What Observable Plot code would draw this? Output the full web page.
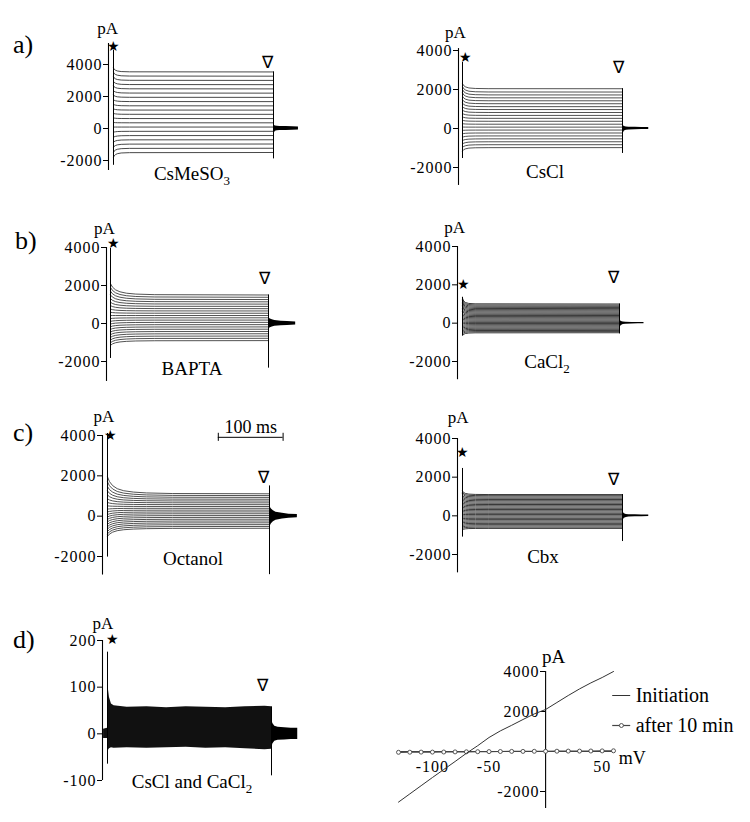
<!DOCTYPE html>
<html><head><meta charset="utf-8">
<script src="https://cdn.jsdelivr.net/npm/d3@7"></script>
<script src="https://cdn.jsdelivr.net/npm/@observablehq/plot@0.6"></script>
<style>
html,body{margin:0;padding:0;background:#fff;}
#fig{position:relative;width:750px;height:822px;overflow:hidden;background:#fff;font-family:"Liberation Serif","Times New Roman",serif;}
#fig > div{position:absolute;}
#fig svg, #fig svg g, #fig svg text, #fig svg tspan{font-family:"Liberation Serif","Times New Roman",serif !important;}
.tp g[aria-label*="tick label"] text, .tp g[aria-label="y-axis"] text, .tp g[aria-label="x-axis"] text{letter-spacing:1px;}
</style></head><body><div id="fig"></div><script>
// ---------------- DATA ----------------
// a) CsMeSO3 (pA, ms)
const csmeso3Steady = [-1500,-1235,-970,-705,-440,-175,90,355,620,885,1150,1415,1680,1945,2210,2475,2740,3005,3270,3535];
const csmeso3Onset  = [-1800,-1490,-1180,-870,-560,-240,90,380,665,950,1235,1520,1805,2090,2375,2660,2945,3230,3515,3780];
const csmeso3DecayT = [0, 1, 3, 6, 12, 25, 250];
const csmeso3DecayW = [1, 0.7, 0.45, 0.25, 0.1, 0.03, 0];
const csmeso3Spike = [-2300, 4900];
const csmeso3End = [-1900, 3535];
const csmeso3TailT  = [250, 251, 253, 256, 260, 270, 280, 289];
const csmeso3TailHi = [350, 200, 160, 140, 130, 120, 110, 100];
const csmeso3TailLo = [-700, -300, -170, -140, -130, -120, -110, -100];

// a) CsCl
const csclSteady = [-980,-830,-680,-530,-380,-230,-80,70,220,370,520,670,820,970,1120,1270,1420,1570,1720,1870,2040];
const csclOnset  = [-1150,-975,-800,-625,-450,-275,-100,75,250,425,600,775,950,1125,1300,1475,1650,1825,2000,2150,2300];
const csclDecayT = [0, 2, 5, 10, 20, 40, 250];
const csclDecayW = [1, 0.6, 0.35, 0.15, 0.05, 0.01, 0];
const csclSpike = [-1540, 3385];
const csclEnd = [-1280, 2040];
const csclTailT  = [250, 251, 253, 256, 260, 270, 280, 291];
const csclTailHi = [250, 150, 100, 80, 70, 60, 55, 50];
const csclTailLo = [-400, -250, -130, -90, -75, -65, -55, -50];

// b) BAPTA
const baptaSteady = [-900,-780,-660,-540,-420,-300,-180,-60,60,180,300,420,540,660,780,900,1020,1140,1260,1380,1500];
const baptaOnset  = [-1150,-1010,-870,-730,-590,-450,-310,-170,-30,110,260,420,590,760,940,1120,1310,1500,1700,1900,2100];
const baptaDecayT = [0, 3, 8, 15, 25, 40, 70, 250];
const baptaDecayW = [1, 0.7, 0.45, 0.28, 0.16, 0.08, 0.03, 0];
const baptaSpike = [-1840, 3950];
const baptaEnd = [-2350, 1500];
const baptaTailT  = [250, 251, 253, 256, 260, 270, 280, 293];
const baptaTailHi = [300, 280, 240, 200, 160, 120, 100, 80];
const baptaTailLo = [-400, -260, -220, -190, -150, -120, -100, -80];

// b) CaCl2
const cacl2Steady = [-500,-440,-380,-320,-260,-200,-140,-80,-20,40,100,160,220,280,340,400,460,520,580,640,700,760,820,880,940,1000];
const cacl2Onset  = [-650,-570,-495,-415,-340,-260,-180,-105,-25,50,130,210,285,365,440,520,600,675,755,830,910,990,1065,1145,1220,1300];
const cacl2DecayT = [0, 2, 5, 10, 20, 250];
const cacl2DecayW = [1, 0.5, 0.25, 0.1, 0.03, 0];
const cacl2Spike = [-650, 1350];
const cacl2End = [-560, 1000];
const cacl2TailT  = [250, 251, 253, 256, 260, 270, 280, 289];
const cacl2TailHi = [200, 150, 90, 60, 45, 40, 35, 30];
const cacl2TailLo = [-300, -200, -120, -70, -50, -40, -35, -30];

// c) Octanol
const octanolSteady = [-600,-510,-420,-330,-240,-150,-60,30,120,210,300,390,480,570,660,750,840,930,1020,1110];
const octanolOnset  = [-1000,-880,-760,-640,-520,-400,-280,-160,-40,80,210,350,510,680,860,1050,1250,1470,1700,1950];
const octanolDecayT = [0, 3, 8, 15, 25, 40, 60, 100, 250];
const octanolDecayW = [1, 0.72, 0.48, 0.3, 0.18, 0.1, 0.05, 0.015, 0];
const octanolSpike = [-2030, 4100];
const octanolEnd = [-2900, 1500];
const octanolTailT  = [250, 251, 253, 256, 260, 270, 280, 293];
const octanolTailHi = [600, 450, 350, 270, 200, 140, 100, 80];
const octanolTailLo = [-600, -500, -380, -280, -200, -140, -100, -80];

// c) Cbx
const cbxSteady = [-650,-585,-520,-455,-390,-325,-260,-195,-130,-65,0,65,130,195,260,325,390,455,520,585,650,715,780,845,910,975,1040,1100];
const cbxOnset  = [-720,-650,-580,-505,-435,-360,-290,-215,-145,-70,0,75,150,225,300,375,450,525,600,675,750,825,900,975,1050,1125,1200,1280];
const cbxDecayT = [0, 2, 5, 10, 20, 40, 250];
const cbxDecayW = [1, 0.55, 0.3, 0.13, 0.04, 0.01, 0];
const cbxSpike = [-1100, 2450];
const cbxEnd = [-1330, 1100];
const cbxTailT  = [250, 251, 253, 256, 260, 270, 280, 291];
const cbxTailHi = [250, 180, 110, 70, 55, 50, 45, 40];
const cbxTailLo = [-300, -220, -120, -80, -60, -50, -45, -40];

// d) CsCl and CaCl2 (noise envelope, pA)
const bothPreT  = [-6, 0];
const bothPreHi = [10, 12];
const bothPreLo = [-10, -10];
const bothBandT  = [0, 1, 3, 6, 10, 30, 60, 90, 120, 150, 180, 210, 240, 250];
const bothBandHi = [120, 100, 78, 64, 60, 57, 58, 56, 58, 57, 56, 58, 59, 58];
const bothBandLo = [-45, -36, -32, -30, -31, -30, -31, -30, -29, -31, -30, -32, -34, -33];
const bothSpike = [-65, 175];
const bothEnd = [-90, 58];
const bothTailT  = [250, 252, 255, 260, 270, 280, 290];
const bothTailHi = [35, 22, 16, 14, 13, 12, 12];
const bothTailLo = [-35, -22, -16, -14, -13, -12, -12];

// d) I-V relation
const ivVoltage    = [-130,-120,-110,-100,-90,-80,-70,-60,-50,-40,-30,-20,-10,0,10,20,30,40,50,60];
const ivInitiation = [-2530,-2120,-1710,-1300,-900,-500,-90,290,700,1030,1310,1600,1880,2100,2450,2800,3130,3430,3700,4000];
const ivAfter10min = [-40,-35,-30,-30,-25,-20,-15,-10,-5,0,5,5,10,10,15,20,20,25,30,35];

const yTicksCurrent = [-2000, 0, 2000, 4000];
const yTicksSmall = [-100, 0, 100, 200];
const ivYTicks = [-2000, 2000, 4000];
const ivXTicks = [-100, -50, 50];

// ---------------- LAYOUT ----------------
const FONT = "'Liberation Serif','Times New Roman',serif";
const fig = document.getElementById("fig");
function fixFont(svg){
  svg.setAttribute("font-family", FONT);
  svg.style.fontFamily = FONT;
  svg.querySelectorAll("g, text").forEach(el => {
    if (el.hasAttribute("font-family")) el.setAttribute("font-family", FONT);
  });
  svg.querySelectorAll("text").forEach(el => { el.style.fontFamily = FONT; });
}
function place(el, box){
  const d = document.createElement("div");
  d.style.left = box[0] + "px"; d.style.top = box[1] + "px";
  d.appendChild(el); fig.appendChild(d);
}

const panels = [
  {L:{box:[0,0,375,200], tPx:[113,273], yv:[-2000,4000], yp:[160,64], axisPx:108, axisSpan:[5312,-2625], ticks:yTicksCurrent, sw:0.9, col:"#333",
      star:[0,5125], tri:[240,4125], pa:[-9,6250]},
   D:{steady:csmeso3Steady, onset:csmeso3Onset, decayT:csmeso3DecayT, decayW:csmeso3DecayW, spike:csmeso3Spike, end:csmeso3End,
      tailT:csmeso3TailT, tailHi:csmeso3TailHi, tailLo:csmeso3TailLo}},
  {L:{box:[375,0,375,200], tPx:[462,622], yv:[-2000,4000], yp:[167,50], axisPx:458, axisSpan:[4100,-2920], ticks:yTicksCurrent, sw:0.85, col:"#333",
      star:[5,3640], tri:[244,3130], pa:[-11,4920]},
   D:{steady:csclSteady, onset:csclOnset, decayT:csclDecayT, decayW:csclDecayW, spike:csclSpike, end:csclEnd,
      tailT:csclTailT, tailHi:csclTailHi, tailLo:csclTailLo}},
  {L:{box:[0,200,375,200], tPx:[110,268], yv:[-2000,4000], yp:[361,247], axisPx:106, axisSpan:[4000,-3050], ticks:yTicksCurrent, sw:0.85, col:"#333",
      star:[5,4230], tri:[244,2370], pa:[-9.5,5020]},
   D:{steady:baptaSteady, onset:baptaOnset, decayT:baptaDecayT, decayW:baptaDecayW, spike:baptaSpike, end:baptaEnd,
      tailT:baptaTailT, tailHi:baptaTailHi, tailLo:baptaTailLo}},
  {L:{box:[375,200,375,200], tPx:[462,619], yv:[-2000,4000], yp:[361,246], axisPx:457, axisSpan:[4000,-2950], ticks:yTicksCurrent, sw:0.9, col:"#222",
      star:[1,2000], tri:[240,2370], pa:[-12.7,5000]},
   D:{steady:cacl2Steady, onset:cacl2Onset, decayT:cacl2DecayT, decayW:cacl2DecayW, spike:cacl2Spike, end:cacl2End,
      tailT:cacl2TailT, tailHi:cacl2TailHi, tailLo:cacl2TailLo}},
  {L:{box:[0,400,375,180], tPx:[107,269], yv:[-2000,4000], yp:[556,435], axisPx:102, axisSpan:[4000,-2920], ticks:yTicksCurrent, sw:0.85, col:"#333",
      star:[4,4020], tri:[241,1930], pa:[-5.4,4950], scalebar:{t1:171, t2:271, v:3910, tick:[3710,4110], text:[221,4420]}},
   D:{steady:octanolSteady, onset:octanolOnset, decayT:octanolDecayT, decayW:octanolDecayW, spike:octanolSpike, end:octanolEnd,
      tailT:octanolTailT, tailHi:octanolTailHi, tailLo:octanolTailLo}},
  {L:{box:[375,400,375,180], tPx:[462,622], yv:[-2000,4000], yp:[554,438], axisPx:457, axisSpan:[4000,-2950], ticks:yTicksCurrent, sw:0.9, col:"#222",
      star:[0,3280], tri:[236,1900], pa:[-7,5080]},
   D:{steady:cbxSteady, onset:cbxOnset, decayT:cbxDecayT, decayW:cbxDecayW, spike:cbxSpike, end:cbxEnd,
      tailT:cbxTailT, tailHi:cbxTailHi, tailLo:cbxTailLo}},
  {L:{box:[0,580,375,242], tPx:[107,271], yv:[-100,200], yp:[780,640], axisPx:102, axisSpan:[200,-100], ticks:yTicksSmall, sw:0.8, col:"#333",
      star:[8,202], tri:[236,103], pa:[-6.9,237]},
   D:{bandT:bothBandT, bandHi:bothBandHi, bandLo:bothBandLo, preT:bothPreT, preHi:bothPreHi, preLo:bothPreLo,
      spike:bothSpike, end:bothEnd, tailT:bothTailT, tailHi:bothTailHi, tailLo:bothTailLo}}
];

function tracePanel(L, D){
  const [bx, by, bw, bh] = L.box;
  const kx = (L.tPx[1] - L.tPx[0]) / 250;
  const axisT = (L.axisPx - L.tPx[0]) / kx;
  const marks = [
    Plot.ruleX([{t:axisT, a:L.axisSpan[0], b:L.axisSpan[1]}], {x:"t", y1:"a", y2:"b", stroke:"#000", strokeWidth:1.1})
  ];
  if (D.steady){
    const rows = [];
    D.steady.forEach((s, k) => {
      const o = D.onset[k];
      D.decayT.forEach((t, j) => rows.push({k, t, v: s + (o - s) * D.decayW[j]}));
    });
    marks.push(Plot.line(rows, {x:"t", y:"v", z:"k", stroke:L.col, strokeWidth:L.sw}));
  }
  if (D.bandT){
    const band = D.bandT.map((t,i)=>({t, hi:D.bandHi[i], lo:D.bandLo[i]}));
    const pre = D.preT.map((t,i)=>({t, hi:D.preHi[i], lo:D.preLo[i]}));
    marks.push(Plot.areaY(pre, {x:"t", y1:"lo", y2:"hi", fill:"#111"}));
    marks.push(Plot.areaY(band, {x:"t", y1:"lo", y2:"hi", fill:"#111"}));
  }
  const tail = D.tailT.map((t,i)=>({t, hi:D.tailHi[i], lo:D.tailLo[i]}));
  marks.push(
    Plot.areaY(tail, {x:"t", y1:"lo", y2:"hi", fill:"#000"}),
    Plot.ruleX([{t:0, a:D.spike[0], b:D.spike[1]}], {x:"t", y1:"a", y2:"b", stroke:"#000", strokeWidth:1}),
    Plot.ruleX([{t:250, a:D.end[0], b:D.end[1]}], {x:"t", y1:"a", y2:"b", stroke:"#000", strokeWidth:1}),
    Plot.text([{t:L.star[0], v:L.star[1]}], {x:"t", y:"v", text:()=>"★", fontSize:14, fill:"#000"}),
    Plot.text([{t:L.tri[0], v:L.tri[1]}], {x:"t", y:"v", text:()=>"∇", fontSize:17, fill:"#000", fontFamily:FONT}),
    Plot.text([{t:L.pa[0], v:L.pa[1]}], {x:"t", y:"v", text:()=>"pA", fontSize:17, fill:"#000", fontFamily:FONT})
  );
  if (L.scalebar){
    const s = L.scalebar;
    marks.push(
      Plot.ruleY([{v:s.v, a:s.t1, b:s.t2}], {y:"v", x1:"a", x2:"b", stroke:"#000", strokeWidth:1}),
      Plot.ruleX([{t:s.t1, a:s.tick[0], b:s.tick[1]}, {t:s.t2, a:s.tick[0], b:s.tick[1]}], {x:"t", y1:"a", y2:"b", stroke:"#000", strokeWidth:1}),
      Plot.text([{t:s.text[0], v:s.text[1]}], {x:"t", y:"v", text:()=>"100 ms", fontSize:18, fill:"#000", fontFamily:FONT})
    );
  }
  const svg = Plot.plot({
    className: "tp",
    width: bw, height: bh,
    marginLeft: L.axisPx - bx, marginRight: 0, marginTop: 0, marginBottom: 0,
    x: {domain:[0,250], range:[L.tPx[0]-bx, L.tPx[1]-bx], axis:null},
    y: {domain:L.yv, range:[L.yp[0]-by, L.yp[1]-by], ticks:L.ticks, tickSize:5, tickPadding:1,
        tickFormat:d=>String(d), label:null},
    style: {fontFamily:FONT, fontSize:"16px", color:"#000", background:"transparent", overflow:"visible"},
    marks
  });
  fixFont(svg);
  place(svg, L.box);
}
panels.forEach(p => tracePanel(p.L, p.D));

// ---- I-V panel ----
(function(){
  const box = [375,580,375,242];
  const xp = [398,613], yp = [791,671], axisPx = 545, xAxisPy = 751;
  const init = ivVoltage.map((x,i)=>({x, y:ivInitiation[i]}));
  const after = ivVoltage.map((x,i)=>({x, y:ivAfter10min[i]}));
  const svg = Plot.plot({
    className: "tp",
    width: box[2], height: box[3],
    marginLeft: axisPx - box[0], marginRight: 0, marginTop: 0, marginBottom: box[1] + box[3] - xAxisPy,
    x: {domain:[-130,60], range:[xp[0]-box[0], xp[1]-box[0]], ticks:ivXTicks, tickSize:0, tickPadding:9,
        tickFormat:d=>String(d), label:null},
    y: {domain:[-2000,4000], range:[yp[0]-box[1], yp[1]-box[1]], ticks:ivYTicks, tickSize:5, tickPadding:1,
        tickFormat:d=>String(d), label:null},
    style: {fontFamily:FONT, fontSize:"16px", color:"#000", background:"transparent", overflow:"visible"},
    marks: [
      Plot.ruleX([{x:0, a:4000, b:-2850}], {x:"x", y1:"a", y2:"b", stroke:"#000", strokeWidth:1.1}),
      Plot.ruleY([{y:0, a:-130, b:60}], {y:"y", x1:"a", x2:"b", stroke:"#444", strokeWidth:1}),
      Plot.line(after, {x:"x", y:"y", stroke:"#444", strokeWidth:1.2}),
      Plot.dot(after, {x:"x", y:"y", r:2, fill:"#fff", stroke:"#444", strokeWidth:0.9}),
      Plot.line(init, {x:"x", y:"y", stroke:"#333", strokeWidth:1}),
      Plot.text([{x:7, y:4750}], {x:"x", y:"y", text:()=>"pA", fontSize:19, fill:"#000", fontFamily:FONT}),
      Plot.text([{x:64.6, y:-350}], {x:"x", y:"y", text:()=>"mV", fontSize:18, fill:"#000", textAnchor:"start", fontFamily:FONT}),
      Plot.ruleY([{y:2800, a:59.3, b:75.2}], {y:"y", x1:"a", x2:"b", stroke:"#333", strokeWidth:1}),
      Plot.text([{x:79.6, y:2800}], {x:"x", y:"y", text:()=>"Initiation", fontSize:20, fill:"#000", textAnchor:"start", fontFamily:FONT}),
      Plot.ruleY([{y:1300, a:59.3, b:75.2}], {y:"y", x1:"a", x2:"b", stroke:"#444", strokeWidth:1.2}),
      Plot.dot([{x:67, y:1300}], {x:"x", y:"y", r:2, fill:"#fff", stroke:"#444", strokeWidth:0.9}),
      Plot.text([{x:79.6, y:1300}], {x:"x", y:"y", text:()=>"after 10 min", fontSize:20, fill:"#000", textAnchor:"start", fontFamily:FONT})
    ]
  });
  fixFont(svg);
  place(svg, box);
})();

// ---- text overlay: panel letters and condition labels ----
(function(){
  const letters = [
    {t:"a)", x:13, y:53}, {t:"b)", x:15, y:249}, {t:"c)", x:13, y:441}, {t:"d)", x:13, y:648}
  ];
  const names = [
    {t:"CsMeSO", sub:"3", x:192, y:180},
    {t:"CsCl", x:545, y:178},
    {t:"BAPTA", x:192, y:375},
    {t:"CaCl", sub:"2", x:547, y:368},
    {t:"Octanol", x:193, y:565},
    {t:"Cbx", x:543, y:563},
    {t:"CsCl and CaCl", sub:"2", x:192, y:788}
  ];
  const svg = d3.create("svg").attr("width",750).attr("height",822)
    .attr("font-family", FONT).style("pointer-events","none");
  svg.selectAll("text.letter").data(letters).join("text").attr("class","letter")
    .attr("x", d=>d.x).attr("y", d=>d.y).attr("font-size", 26).text(d=>d.t);
  const g = svg.selectAll("text.name").data(names).join("text").attr("class","name")
    .attr("x", d=>d.x).attr("y", d=>d.y).attr("font-size", 19).attr("text-anchor","middle");
  g.append("tspan").text(d=>d.t);
  g.filter(d=>d.sub).append("tspan").attr("font-size", 13).attr("dy", 5).text(d=>d.sub);
  place(svg.node(), [0,0]);
})();
</script></body></html>
